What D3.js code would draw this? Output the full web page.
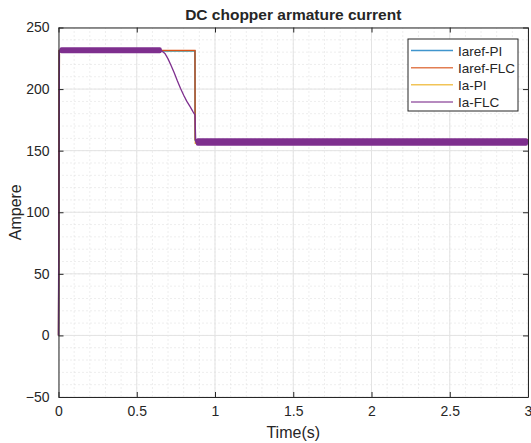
<!DOCTYPE html>
<html>
<head>
<meta charset="utf-8">
<script src="https://cdn.jsdelivr.net/npm/d3@7"></script>
<style>
  body { margin: 0; background: #fff; }
  text { font-family: "Liberation Sans", Arial, sans-serif; fill: #262626; }
</style>
</head>
<body>
<svg id="chart" width="531" height="443"></svg>
<script>
// ---- data ----
const xTicks = [0, 0.5, 1, 1.5, 2, 2.5, 3]
const yTicks = [-50, 0, 50, 100, 150, 200, 250]
const seriesNames = ['Iaref-PI', 'Iaref-FLC', 'Ia-PI', 'Ia-FLC']
const seriesColors = ['#0072BD', '#D95319', '#EDB120', '#7E2F8E']

const iarefPI = [[0, 0], [0.004, 231], [0.872, 231], [0.873, 158.5], [3, 158.5]]
const iarefFLC = [[0, 0], [0.004, 231.5], [0.872, 231.5], [0.873, 159], [3, 159]]
const iaPI = [[0, 0], [0.006, 231], [0.872, 231], [0.874, 156], [3, 156]]
const iaFLC = [[0, 0], [0.006, 231], [0.66, 231], [0.68, 229], [0.70, 224.5], [0.72, 219],
  [0.74, 213], [0.76, 206.5], [0.78, 200.5], [0.80, 195], [0.82, 190], [0.84, 186],
  [0.86, 181.5], [0.872, 179], [0.877, 157], [3, 157]]
// ripple envelope of Ia-FLC (switching band)
const rippleFrom = [0.006, 0.877]
const rippleTo = [0.66, 3]
const rippleLo = [229, 154]
const rippleHi = [234, 160]

// ---- layout ----
const svg = d3.select('#chart')
const mLeft = 58.5, mRight = 528, mTop = 27.5, mBottom = 397

const x = d3.scaleLinear().domain([0, 3]).range([mLeft, mRight])
const y = d3.scaleLinear().domain([-50, 250]).range([mBottom, mTop])

// minor grid (dotted)
const g = svg.append('g')
g.selectAll('.mx').data(d3.range(0, 3.0001, 0.1)).join('line')
  .attr('x1', d => x(d)).attr('x2', d => x(d))
  .attr('y1', mTop).attr('y2', mBottom)
  .attr('stroke', '#dcdcdc').attr('stroke-width', 1)
  .attr('stroke-dasharray', '1,3')
g.selectAll('.my').data(d3.range(-50, 250.001, 10)).join('line')
  .attr('y1', d => y(d)).attr('y2', d => y(d))
  .attr('x1', mLeft).attr('x2', mRight)
  .attr('stroke', '#dcdcdc').attr('stroke-width', 1)
  .attr('stroke-dasharray', '1,3')

// major grid
g.selectAll('.gx').data(xTicks).join('line')
  .attr('x1', d => x(d)).attr('x2', d => x(d))
  .attr('y1', mTop).attr('y2', mBottom)
  .attr('stroke', '#e3e3e3').attr('stroke-width', 1)
g.selectAll('.gy').data(yTicks).join('line')
  .attr('y1', d => y(d)).attr('y2', d => y(d))
  .attr('x1', mLeft).attr('x2', mRight)
  .attr('stroke', '#e3e3e3').attr('stroke-width', 1)

// series lines (Ia-PI sits underneath the references, as in the picture)
const line = d3.line().x(d => x(d[0])).y(d => y(d[1]))
const allSeries = [iarefPI, iarefFLC, iaPI, iaFLC]
const drawOrder = [2, 0, 1, 3]
drawOrder.forEach(i => {
  svg.append('path').datum(allSeries[i])
    .attr('d', line)
    .attr('fill', 'none')
    .attr('stroke', seriesColors[i])
    .attr('stroke-width', 1.3)
})

// ripple band of Ia-FLC
svg.selectAll('.band').data(rippleFrom).join('rect')
  .attr('x', (d, i) => x(d))
  .attr('width', (d, i) => x(rippleTo[i]) - x(d))
  .attr('y', (d, i) => y(rippleHi[i]))
  .attr('height', (d, i) => y(rippleLo[i]) - y(rippleHi[i]))
  .attr('rx', 2)
  .attr('fill', seriesColors[3])

// axes box with inward ticks
const axisColor = '#262626'
const tickLen = 5
const axB = svg.append('g').attr('transform', `translate(0,${mBottom})`)
  .call(d3.axisBottom(x).tickValues(xTicks).tickSizeInner(-tickLen).tickSizeOuter(0).tickPadding(9).tickFormat(d3.format('')))
const axT = svg.append('g').attr('transform', `translate(0,${mTop})`)
  .call(d3.axisTop(x).tickValues(xTicks).tickSizeInner(-tickLen).tickSizeOuter(0).tickFormat(''))
const axL = svg.append('g').attr('transform', `translate(${mLeft},0)`)
  .call(d3.axisLeft(y).tickValues(yTicks).tickSizeInner(-tickLen).tickSizeOuter(0).tickPadding(9))
const axR = svg.append('g').attr('transform', `translate(${mRight},0)`)
  .call(d3.axisRight(y).tickValues(yTicks).tickSizeInner(-tickLen).tickSizeOuter(0).tickFormat(''))
;[axB, axT, axL, axR].forEach(a => {
  a.select('.domain').attr('stroke', axisColor).attr('stroke-width', 1)
  a.selectAll('.tick line').attr('stroke', axisColor)
  a.selectAll('.tick text').style('font-family', '"Liberation Sans", Arial, sans-serif')
    .style('font-size', '14px').attr('fill', axisColor)
})

// title and labels
svg.append('text').attr('x', (mLeft + mRight) / 2).attr('y', 20)
  .attr('text-anchor', 'middle').style('font-size', '15.5px').style('font-weight', 'bold')
  .attr('fill', '#000').text('DC chopper armature current')
svg.append('text').attr('x', (mLeft + mRight) / 2).attr('y', 438)
  .attr('text-anchor', 'middle').style('font-size', '16px').text('Time(s)')
svg.append('text').attr('transform', `translate(21,${(mTop + mBottom) / 2}) rotate(-90)`)
  .attr('text-anchor', 'middle').style('font-size', '16px').text('Ampere')

// legend
const lg = svg.append('g')
lg.append('rect').attr('x', 408).attr('y', 39).attr('width', 110).attr('height', 72)
  .attr('fill', '#fff').attr('stroke', axisColor).attr('stroke-width', 1)
const rowY = d3.scalePoint().domain(seriesNames).range([50.5, 102])
seriesNames.forEach((n, i) => {
  lg.append('line').attr('x1', 411).attr('x2', 453)
    .attr('y1', rowY(n)).attr('y2', rowY(n))
    .attr('stroke', seriesColors[i]).attr('stroke-width', 1.5).attr('opacity', 0.75)
  lg.append('text').attr('x', 458).attr('y', rowY(n) + 5)
    .style('font-size', '13.5px').text(n)
})
</script>
</body>
</html>
